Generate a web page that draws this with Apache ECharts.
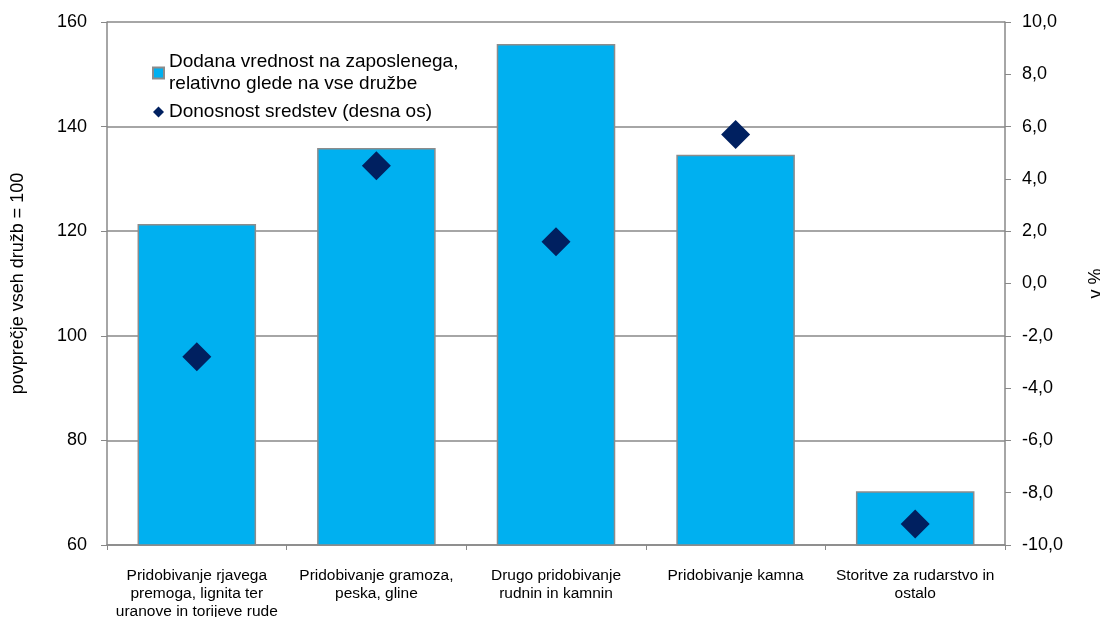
<!DOCTYPE html>
<html><head><meta charset="utf-8">
<script src="https://cdn.jsdelivr.net/npm/echarts@6/dist/echarts.min.js"></script>
<style>html,body{margin:0;padding:0;background:#fff}#c{width:1100px;height:617px}</style>
</head><body><div id="c"></div>
<script>
const categories = [
  "Pridobivanje rjavega\npremoga, lignita ter\nuranove in torijeve rude",
  "Pridobivanje gramoza,\npeska, gline",
  "Drugo pridobivanje\nrudnin in kamnin",
  "Pridobivanje kamna",
  "Storitve za rudarstvo in\nostalo"
];
const valueAdded = [121.4, 135.9, 155.8, 134.6, 70.3];
const returnOnAssets = [-2.8, 4.5, 1.6, 5.7, -9.2];
const leftTicks = [60, 80, 100, 120, 140, 160];
const rightTicks = [-10, -8, -6, -4, -2, 0, 2, 4, 6, 8, 10];

const gray = '#888888';
const chart = echarts.init(document.getElementById('c'));
chart.setOption({
  animation: false,
  textStyle: {fontFamily: 'Liberation Sans, Arial, sans-serif'},
  grid: {left: 107, right: 95, top: 22, bottom: 72, outerBoundsMode: 'none', containLabel: false},
  legend: {
    orient: 'vertical', left: 147, top: 46, itemGap: 6,
    itemWidth: 11, itemHeight: 11,
    textStyle: {fontSize: 19, color: '#000', fontFamily: 'Liberation Sans, Arial', lineHeight: 22},
    data: [
      {name: 'Dodana vrednost na zaposlenega,\nrelativno glede na vse družbe', icon: 'rect'},
      {name: 'Donosnost sredstev (desna os)', icon: 'diamond'}
    ]
  },
  xAxis: {
    type: 'category', data: categories,
    axisLine: {onZero: false, lineStyle: {color: gray, width: 1.5}},
    axisTick: {show: true, alignWithLabel: false, length: 5, lineStyle: {color: gray}},
    axisLabel: {interval: 0, fontSize: 15.5, color: '#000', margin: 22, lineHeight: 18,
      fontFamily: 'Liberation Sans Narrow, Arial Narrow, Liberation Sans'}
  },
  yAxis: [{
    type: 'value', min: leftTicks[0], max: leftTicks[leftTicks.length-1], interval: 20,
    name: 'povprečje vseh družb = 100', nameLocation: 'middle', nameGap: 80, nameRotate: 90,
    nameTextStyle: {fontSize: 18, color: '#000'},
    axisLine: {show: true, onZero: false, lineStyle: {color: gray, width: 1.5}},
    axisTick: {show: true, length: 6, lineStyle: {color: gray}},
    axisLabel: {fontSize: 18, color: '#000', margin: 20},
    splitLine: {lineStyle: {color: gray, width: 1.5}}
  }, {
    type: 'value', min: rightTicks[0], max: rightTicks[rightTicks.length-1], interval: 2,
    name: 'v %', nameLocation: 'middle', nameGap: 82, nameRotate: 90,
    nameTextStyle: {fontSize: 18, color: '#000'},
    axisLine: {show: true, onZero: false, lineStyle: {color: gray, width: 1.5}},
    axisTick: {show: true, length: 6, lineStyle: {color: gray}},
    axisLabel: {fontSize: 18, color: '#000', margin: 17,
      formatter: v => v.toFixed(1).replace('.', ',')},
    splitLine: {show: false}
  }],
  series: [{
    name: 'Dodana vrednost na zaposlenega,\nrelativno glede na vse družbe',
    type: 'bar', data: valueAdded, yAxisIndex: 0, barCategoryGap: '34%',
    itemStyle: {color: '#00b0f0', borderColor: '#8c8c8c', borderWidth: 1.5}
  }, {
    name: 'Donosnost sredstev (desna os)',
    type: 'scatter', data: returnOnAssets, yAxisIndex: 1,
    symbol: 'diamond', symbolSize: 29,
    itemStyle: {color: '#002060', opacity: 1}
  }]
});
</script></body></html>
